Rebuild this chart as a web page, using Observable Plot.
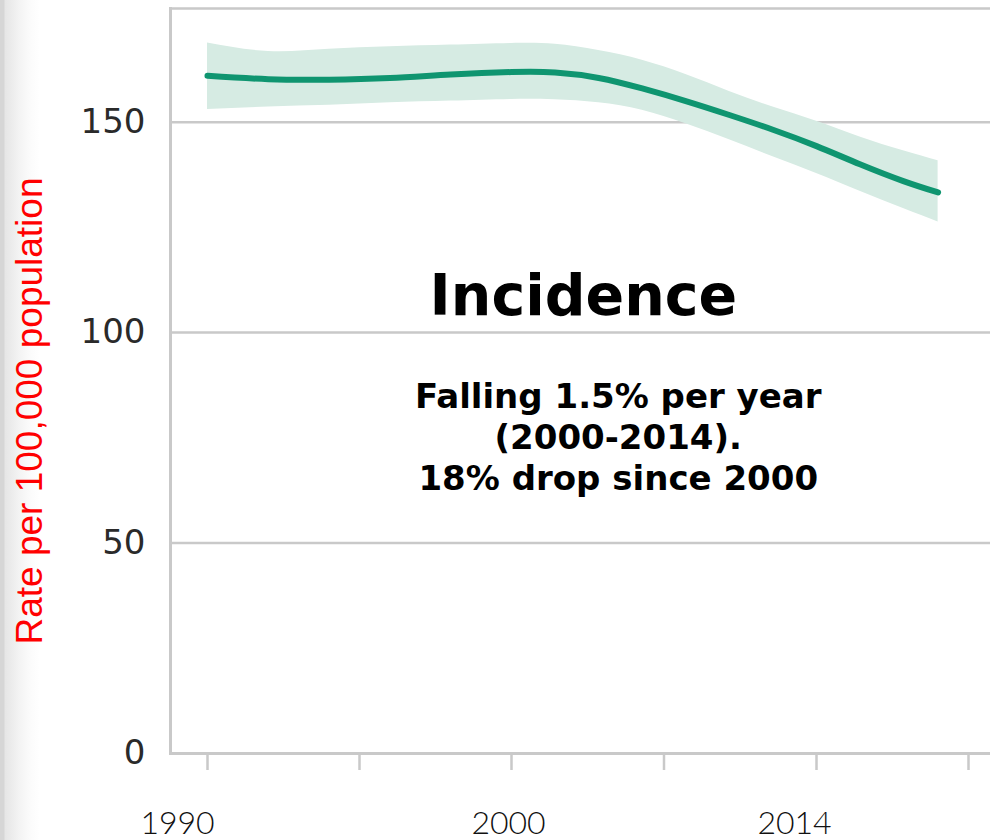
<!DOCTYPE html>
<html>
<head>
<meta charset="utf-8">
<script src="https://cdn.jsdelivr.net/npm/d3@7"></script>
<script src="https://cdn.jsdelivr.net/npm/@observablehq/plot@0.6"></script>
<style>
  html, body { margin: 0; padding: 0; background: #fff; }
  body {
    width: 990px; height: 840px; overflow: hidden;
    background: linear-gradient(to right, #d6d6d6 0px, #d6d6d6 4px, #e6e6e6 5px, #ececec 12px, #f4f4f4 20px, #fbfbfb 30px, #ffffff 40px);
  }
  svg { display: block; }
</style>
</head>
<body>
<script>
// Data
const years = [1990, 1992, 1994, 1996, 1998, 2000, 2002, 2004, 2006, 2008, 2010, 2012, 2014, 2016, 2018, 2019.6];
const rate  = [161.0, 160.2, 160.1, 160.5, 161.3, 161.9, 161.8, 160.5, 158.0, 155.0, 151.7, 148.2, 144.3, 140.0, 136.0, 133.3];
const upper = [168.8, 166.8, 167.3, 167.9, 168.3, 168.7, 168.5, 167.0, 164.7, 161.3, 157.3, 153.6, 150.2, 146.5, 143.2, 140.8];
const lower = [153.0, 153.6, 154.0, 154.6, 155.0, 155.4, 155.3, 154.6, 152.8, 149.6, 145.8, 141.8, 137.8, 133.6, 129.5, 126.3];
const xTickYears = [1990, 1995, 2000, 2007, 2014, 2021];
const xLabelYears = [1990, 2000, 2014];
const yTicks = [0, 50, 100, 150];
const gridValues = [50, 100, 150];
const yLabel = "Rate per 100,000 population";
const title = "Incidence";
const note = "Falling 1.5% per year\n(2000-2014).\n18% drop since 2000";

const rows = years.map((y, i) => ({year: y, rate: rate[i], upper: upper[i], lower: lower[i]}));

const gridColor = "#c9c9c9";
const green = "#0f9570";

const labelShifts = [-30, -3, -22];

const chart = Plot.plot({
  width: 990,
  height: 840,
  marginLeft: 170,
  marginRight: 0,
  marginTop: 8,
  marginBottom: 87,
  style: {background: "transparent", overflow: "visible"},
  x: {type: "linear", domain: [1990, 2000, 2014, 2021], range: [207, 511, 816, 968]},
  y: {type: "linear", domain: [0, 177], range: [753, 8]},
  marks: [
    Plot.ruleY(gridValues, {stroke: gridColor, strokeWidth: 2.5}),
    Plot.frame({anchor: "left", stroke: gridColor, strokeWidth: 3}),
    Plot.frame({anchor: "top", stroke: gridColor, strokeWidth: 2.5}),
    Plot.frame({anchor: "bottom", stroke: gridColor, strokeWidth: 3}),
    Plot.axisX(xTickYears, {tickSize: 17, stroke: gridColor, strokeWidth: 2.5, tickFormat: () => "", label: null}),
    ...xLabelYears.map((yr, i) => Plot.axisX([yr], {
      tickSize: 0, tickPadding: 58, dx: labelShifts[i], label: null,
      tickFormat: d => String(d),
      fontSize: 32, fontFamily: "Lato, 'Open Sans', sans-serif", fontWeight: 300, fill: "#111"
    })),
    Plot.axisY(yTicks, {
      tickSize: 0, tickPadding: 25, label: null,
      fontSize: 34, fontFamily: "'DejaVu Sans', sans-serif", fill: "#2a2a2a"
    }),
    Plot.areaY(rows, {x: "year", y1: "lower", y2: "upper", fill: "#d6ebe3", curve: "natural"}),
    Plot.line(rows, {x: "year", y: "rate", stroke: green, strokeWidth: 6, strokeLinecap: "round", curve: "natural"}),
    Plot.text([title], {x: 2003.3, y: 108.6, text: d => d, fontSize: 57, fontWeight: "bold",
      fontFamily: "'DejaVu Sans', sans-serif", fill: "#000", textAnchor: "middle", lineAnchor: "middle"}),
    Plot.text([note], {x: 2004.9, y: 75.5, text: d => d, fontSize: 34, fontWeight: "bold",
      fontFamily: "'DejaVu Sans', sans-serif", fill: "#000", textAnchor: "middle", lineAnchor: "middle", lineHeight: 1.22}),
    Plot.text([yLabel], {frameAnchor: "left", rotate: -90, dx: -140, dy: 30, text: d => d,
      fontSize: 37, fontFamily: "'Liberation Sans', Arial, sans-serif", fill: "#ff0000", textAnchor: "middle", lineAnchor: "middle"})
  ]
});

document.body.appendChild(chart);
</script>
</body>
</html>
